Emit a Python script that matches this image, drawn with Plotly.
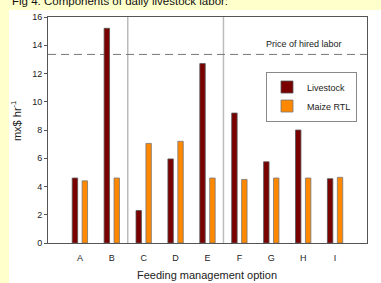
import plotly.graph_objects as go

categories = ["A", "B", "C", "D", "E", "F", "G", "H", "I"]
livestock = [4.6, 15.2, 2.3, 5.95, 12.7, 9.2, 5.75, 8.0, 4.55]
maize_rtl = [4.4, 4.6, 7.05, 7.2, 4.6, 4.5, 4.6, 4.6, 4.65]
hired_labor_price = 13.35
y_ticks = [0, 2, 4, 6, 8, 10, 12, 14, 16]
group_dividers = [1.5, 4.5]

xpos = list(range(len(categories)))

W, H = 381, 283
L, R, T, B = 48, 14, 15, 40
pw, ph = W - L - R, H - T - B

def px_x(x):
    return (x - L) / pw

def px_y(y):
    return (H - B - y) / ph

fig = go.Figure()
fig.add_trace(go.Bar(
    x=xpos, y=livestock, name="Livestock",
    marker=dict(color="#7a0000", line=dict(color="#555555", width=0.8)),
    width=0.17, offset=-0.241,
))
fig.add_trace(go.Bar(
    x=xpos, y=maize_rtl, name="Maize RTL",
    marker=dict(color="#ff8800", line=dict(color="#777777", width=0.8)),
    width=0.17, offset=0.07,
))

shapes = [
    dict(type="rect", xref="paper", yref="paper",
         x0=px_x(9), x1=px_x(W + 5), y0=px_y(H + 5), y1=px_y(8),
         fillcolor="white", line=dict(width=0), layer="below"),
]
for d in group_dividers:
    shapes.append(dict(type="line", xref="x", yref="paper", x0=d, x1=d, y0=0, y1=1,
                       line=dict(color="#bbbbbb", width=1.5), layer="below"))
shapes.append(dict(type="line", xref="paper", yref="y", x0=0, x1=1,
                   y0=hired_labor_price, y1=hired_labor_price,
                   line=dict(color="#777777", width=1, dash="8px,5px"), layer="below"))

annotations = [
    dict(text="Fig 4. Components of daily livestock labor:", xref="paper", yref="paper",
         x=px_x(10), y=px_y(-1), xanchor="left", yanchor="middle", showarrow=False,
         font=dict(size=11.5, color="#111111")),
    dict(text="Price of hired labor", xref="paper", yref="paper",
         x=px_x(304), y=px_y(42.7), xanchor="center", yanchor="middle", showarrow=False,
         font=dict(size=9, color="#222222")),
    dict(text="mx$ hr<sup>-1</sup>", xref="paper", yref="paper",
         x=px_x(16), y=px_y(120), xanchor="center", yanchor="middle", showarrow=False,
         textangle=-90, font=dict(size=11, color="#222222")),
    dict(text="Feeding management option", xref="paper", yref="paper",
         x=px_x(207), y=px_y(275), xanchor="center", yanchor="middle", showarrow=False,
         font=dict(size=11, color="#222222")),
]

fig.update_layout(
    width=W, height=H,
    margin=dict(l=L, r=R, t=T, b=B, pad=0),
    paper_bgcolor="#ffffcc", plot_bgcolor="white",
    font=dict(family="Liberation Sans, Arial, sans-serif", size=9, color="#222222"),
    barmode="overlay",
    shapes=shapes, annotations=annotations,
    legend=dict(x=px_x(266), y=px_y(70), xanchor="left", yanchor="top",
                bgcolor="white", bordercolor="#888888", borderwidth=1,
                font=dict(size=9, color="#222222"), tracegroupgap=0, itemwidth=30),
    xaxis=dict(range=[-1, 9], tickvals=xpos, ticktext=categories,
               showgrid=False, zeroline=False, showline=True, linecolor="#555555",
               linewidth=1, mirror=True, ticks="outside", ticklen=6,
               tickcolor="rgba(0,0,0,0)", tickfont=dict(size=9, color="#222222")),
    yaxis=dict(range=[0, 16], tickvals=y_ticks, showgrid=False, zeroline=False,
               showline=True, linecolor="#555555", linewidth=1, mirror=True,
               ticks="outside", ticklen=3, tickcolor="#555555",
               tickfont=dict(size=9, color="#222222")),
)

fig.write_html("out.html", config={"displayModeBar": False},
               post_script="document.body.style.margin='0';document.body.style.overflow='hidden';")
